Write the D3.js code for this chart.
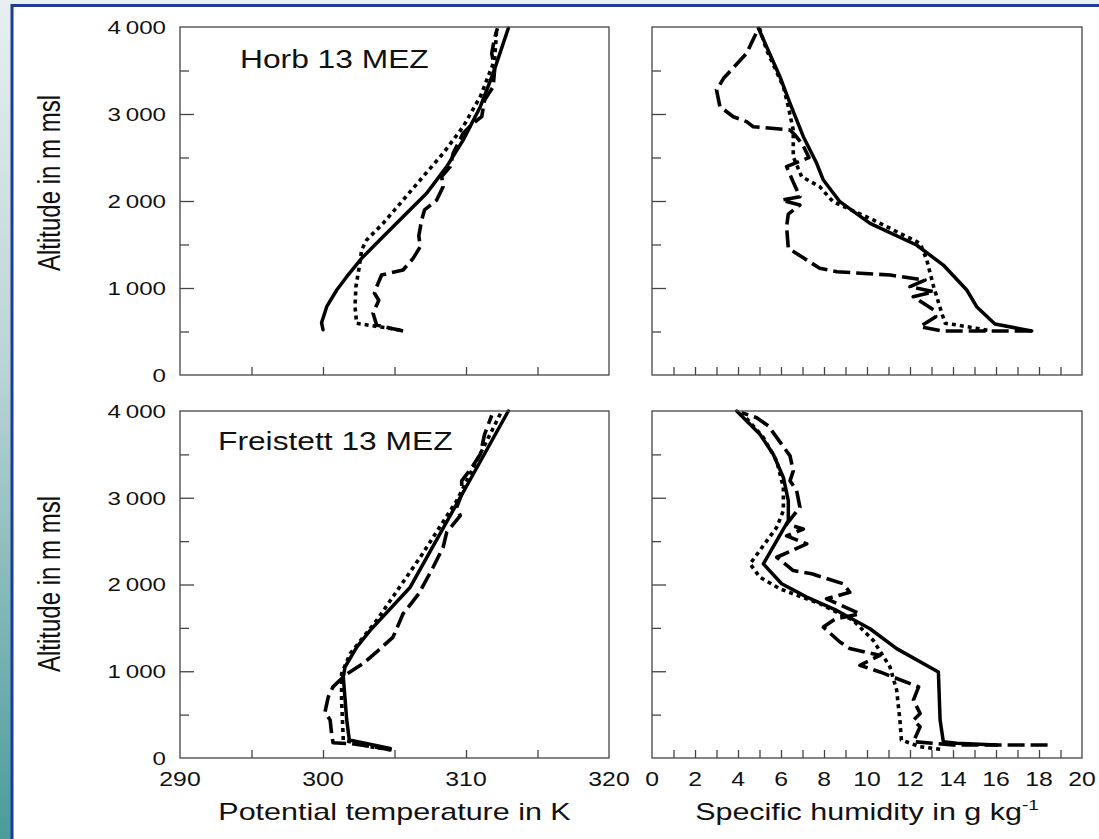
<!DOCTYPE html>
<html><head><meta charset="utf-8">
<script src="https://cdn.jsdelivr.net/npm/d3@7"></script>
<style>html,body{margin:0;padding:0;background:#fff;overflow:hidden}</style>
</head><body>
<script>
// ---------------- DATA ----------------
const altTickValues = [0, 1000, 2000, 3000, 4000];
const altTickLabels = ["0", "1\u2009000", "2\u2009000", "3\u2009000", "4\u2009000"];
const altMajorTicks = [1000, 2000, 3000];
const altMinorTicks = [500, 1500, 2500, 3500];
const thetaTickValues = [290, 300, 310, 320];
const thetaInnerTicks = [295, 300, 305, 310, 315];
const qTickValues = [0, 2, 4, 6, 8, 10, 12, 14, 16, 18, 20];
const qInnerTicks = [1,2,3,4,5,6,7,8,9,10,11,12,13,14,15,16,17,18,19];
const stationLabels = ["Horb 13 MEZ", "Freistett 13 MEZ"];
const yTitle = "Altitude in m msl";
const thetaTitle = "Potential temperature in K";
const qTitle = "Specific humidity in g kg";

// [value, altitude in m]
const horbThetaSolid = [[300.0,520],[299.9,600],[300.26,785],[300.96,977],[301.66,1130],[302.7,1341],[304.2,1590],[305.6,1820],[307.25,2089],[308.65,2395],[309.8,2700],[311.0,3084],[311.9,3467],[312.96,3985]];
const horbThetaDotted = [[305.4,517],[303.3,570],[302.35,594],[302.24,785],[302.3,1015],[302.54,1245],[302.7,1437],[303.05,1552],[304.2,1743],[305.6,2011],[307.0,2280],[308.4,2548],[309.8,2854],[311.0,3200],[312.0,3620],[312.15,3985]];
const horbThetaDashed = [[305.6,506],[303.75,575],[303.5,709],[303.9,860],[303.6,939],[303.75,1015],[304.1,1149],[305.6,1207],[306.3,1340],[306.8,1475],[306.7,1600],[306.9,1782],[307.1,1897],[307.95,2011],[308.4,2165],[308.3,2280],[308.9,2395],[309.1,2548],[309.8,2778],[310.5,2893],[311.1,2969],[311.3,3161],[311.9,3314],[312.0,3506],[311.8,3698],[312.0,3870],[312.2,3985]];

const horbQSolid = [[17.66,506],[15.95,586],[15.1,785],[14.64,977],[13.55,1264],[12.3,1494],[10.14,1743],[8.74,1992],[7.97,2241],[7.66,2433],[7.04,2739],[6.42,3123],[5.95,3429],[4.95,3985]];
const horbQDotted = [[15.6,515],[14.18,575],[13.64,594],[13.48,709],[13.1,1015],[12.78,1322],[12.47,1513],[10.29,1782],[8.42,1992],[7.8,2165],[6.96,2280],[6.57,2509],[6.57,2816],[6.34,3084],[6.11,3314],[5.33,3736],[5.0,3985]];
const horbQDashed = [[17.66,506],[13.48,506],[12.47,555],[13.2,670],[13.1,748],[12.15,900],[13.1,958],[12.0,1015],[12.7,1091],[11.07,1149],[8.6,1187],[7.8,1226],[6.96,1360],[6.34,1456],[6.26,1705],[6.34,1850],[6.88,1954],[6.03,2011],[6.88,2050],[6.6,2200],[6.26,2395],[7.3,2500],[7.0,2650],[6.65,2759],[6.42,2816],[4.71,2854],[4.4,2912],[3.78,2969],[3.16,3084],[3.0,3276],[3.33,3410],[4.4,3697],[4.95,3985]];

const freiThetaSolid = [[304.7,111],[301.84,207],[301.66,437],[301.42,934],[301.54,1049],[302.36,1279],[303.3,1471],[306.1,1969],[309.6,3003],[312.96,4000]];
const freiThetaDotted = [[304.7,95],[303.3,130],[301.42,207],[301.3,667],[301.3,973],[301.9,1203],[303.75,1586],[306.8,2314],[309.35,2966],[312.5,4000]];
const freiThetaDashed = [[304.8,92],[303.7,125],[302.0,165],[300.7,175],[300.6,284],[300.5,437],[300.14,532],[300.37,705],[300.7,820],[301.54,954],[302.8,1088],[303.75,1222],[304.9,1394],[305.6,1663],[306.7,1893],[307.7,2199],[308.4,2429],[308.65,2601],[309.6,2793],[309.35,2889],[309.7,3042],[309.7,3195],[310.4,3348],[311.0,3502],[311.3,3732],[311.8,3950]];

const freiQSolid = [[16.03,149],[14.17,169],[13.55,188],[13.4,437],[13.32,992],[11.38,1261],[10.14,1490],[8.59,1701],[7.2,1854],[6.03,2008],[5.18,2238],[6.34,2736],[6.34,2966],[6.11,3234],[5.64,3502],[5.02,3732],[3.94,4000]];
const freiQDotted = [[13.4,100],[12.47,130],[11.6,207],[11.53,437],[11.38,782],[11.07,1049],[10.29,1356],[9.36,1586],[7.81,1778],[5.95,1950],[5.02,2084],[4.56,2238],[5.8,2659],[6.11,2851],[6.11,3120],[5.8,3425],[5.18,3693],[4.17,3980]];
const freiQDashed = [[18.4,150],[14.0,150],[12.16,188],[12.47,360],[12.16,437],[12.47,514],[12.16,667],[12.4,820],[10.6,992],[9.67,1069],[10.6,1184],[9.2,1261],[8.74,1337],[7.97,1509],[8.5,1600],[9.67,1663],[8.12,1835],[9.2,1911],[8.9,2008],[7.43,2123],[6.57,2161],[5.8,2314],[7.2,2468],[6.26,2560],[7.04,2640],[6.26,2697],[6.88,2889],[6.73,3080],[6.42,3195],[6.57,3310],[6.42,3483],[5.41,3828],[4.87,3923],[4.17,3980]];

// ---------------- DRAWING ----------------
const W = 1099, H = 839;
const SX = 1.27; // horizontal stretch of the original figure text
const FONT = "'Liberation Sans', Arial, Helvetica, sans-serif";

const svg = d3.select("body").append("svg").attr("width", W).attr("height", H);
const defs = svg.append("defs");
const lg = defs.append("linearGradient").attr("id","side").attr("x1",0).attr("y1",0).attr("x2",0).attr("y2",1);
lg.append("stop").attr("offset","0%").attr("stop-color","#e8eff0");
lg.append("stop").attr("offset","45%").attr("stop-color","#b9d3d4");
lg.append("stop").attr("offset","100%").attr("stop-color","#4a9b9c");
svg.append("rect").attr("width",W).attr("height",H).attr("fill","#e9f0f1");
svg.append("rect").attr("x",0).attr("y",0).attr("width",14).attr("height",H).attr("fill","url(#side)");
svg.append("rect").attr("x",12).attr("y",5.5).attr("width",W+20).attr("height",H+20)
  .attr("fill","#ffffff").attr("stroke","#1f3d98").attr("stroke-width",3);

const xTheta = d3.scaleLinear().domain([290,320]).range([180,609]);
const xQ = d3.scaleLinear().domain([0,20]).range([652,1082]);
const yTop = d3.scaleLinear().domain([0,4000]).range([375,27]);
const yBot = d3.scaleLinear().domain([0,4000]).range([758,411]);

function stext(g, x, y, str, size, anchor) {
  return g.append("text")
    .attr("transform", `translate(${x},${y}) scale(${SX},1)`)
    .attr("text-anchor", anchor || "start")
    .attr("font-family", FONT).attr("font-size", size).attr("fill", "#111")
    .text(str);
}

const styles = [
  {w:3.5, dash:null},
  {w:3.6, dash:"4,4"},
  {w:3.6, dash:"17,6"}
];

const panels = [
  {x:xTheta, y:yTop, series:[horbThetaSolid,horbThetaDotted,horbThetaDashed], inner:thetaInnerTicks, left:true, bottomLabels:false, label:stationLabels[0], lx:240, ly:68, titleY:183},
  {x:xQ, y:yTop, series:[horbQSolid,horbQDotted,horbQDashed], inner:qInnerTicks, left:false, bottomLabels:false},
  {x:xTheta, y:yBot, series:[freiThetaSolid,freiThetaDotted,freiThetaDashed], inner:thetaInnerTicks, left:true, bottomLabels:true, label:stationLabels[1], lx:218, ly:450, titleY:584},
  {x:xQ, y:yBot, series:[freiQSolid,freiQDotted,freiQDashed], inner:qInnerTicks, left:false, bottomLabels:true}
];

panels.forEach((p) => {
  const g = svg.append("g");
  const [x0,x1] = p.x.range();
  const [y0,y1] = p.y.range();
  const yMaj = d3.axisLeft(p.y).tickValues(altMajorTicks).tickSize(-14).tickFormat("");
  const yMin = d3.axisLeft(p.y).tickValues(altMinorTicks).tickSize(-9).tickFormat("");
  [yMaj,yMin].forEach(ax => {
    const a = g.append("g").attr("transform",`translate(${x0},0)`).call(ax);
    a.select(".domain").remove();
    a.selectAll("line").attr("stroke","#444").attr("stroke-width",1.3);
  });
  const xIn = d3.axisBottom(p.x).tickValues(p.inner).tickSize(-8).tickFormat("");
  const ax = g.append("g").attr("transform",`translate(0,${y0})`).call(xIn);
  ax.select(".domain").remove();
  ax.selectAll("line").attr("stroke","#444").attr("stroke-width",1.3);

  const line = d3.line().x(d => p.x(d[0])).y(d => p.y(d[1])).curve(d3.curveLinear);
  p.series.forEach((s, k) => {
    g.append("path").datum(s).attr("d", line)
      .attr("fill","none").attr("stroke","#000")
      .attr("stroke-width", styles[k].w)
      .attr("stroke-dasharray", styles[k].dash)
      .attr("stroke-linejoin","round").attr("stroke-linecap", k===0 ? "round" : "butt");
  });

  g.append("rect").attr("x",x0).attr("y",y1).attr("width",x1-x0).attr("height",y0-y1)
    .attr("fill","none").attr("stroke","#444").attr("stroke-width",1.3);

  if (p.left) {
    altTickValues.forEach((v, j) => {
      stext(svg, 166, p.y(v) + 6.8, altTickLabels[j], 19, "end");
    });
    svg.append("text")
      .attr("transform", `translate(60,${p.titleY}) scale(${SX},1) rotate(-90)`)
      .attr("text-anchor","middle").attr("font-family",FONT).attr("font-size",24).attr("fill","#111")
      .text(yTitle);
  }
  if (p.label) stext(svg, p.lx, p.ly, p.label, 25, "start");
  if (p.bottomLabels) {
    const vals = p.x === xTheta ? thetaTickValues : qTickValues;
    vals.forEach(v => stext(svg, p.x(v), 786, String(v), 19.5, "middle"));
    const cx = (x0 + x1) / 2;
    if (p.x === xTheta) {
      stext(svg, cx, 820, thetaTitle, 24, "middle");
    } else {
      const t = svg.append("text")
        .attr("transform", `translate(${cx},820) scale(${SX},1)`)
        .attr("text-anchor","middle").attr("font-family",FONT).attr("font-size",24).attr("fill","#111");
      t.append("tspan").text(qTitle);
      t.append("tspan").attr("font-size",15).attr("dy",-10).text("-1");
    }
  }
});
</script>
</body></html>
